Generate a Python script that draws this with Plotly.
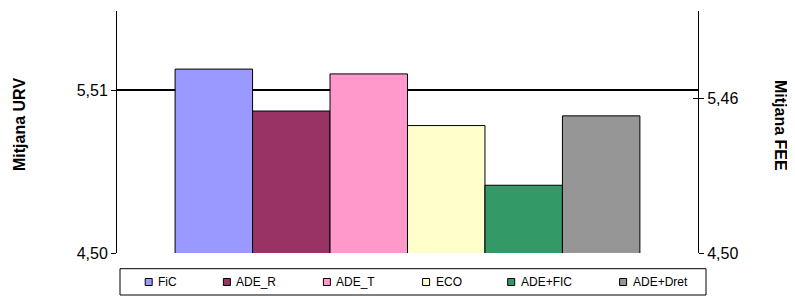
import plotly.graph_objects as go

# ---- data ----
series = ["FiC", "ADE_R", "ADE_T", "ECO", "ADE+FIC", "ADE+Dret"]
values_urv = [5.64, 5.38, 5.61, 5.29, 4.92, 5.35]
colors = ["#9999FF", "#993366", "#FF99CC", "#FFFFCC", "#339966", "#969696"]
left_ticks = [4.50, 5.51]
right_ticks = [4.50, 5.46]
axis_range = [4.5, 6.0]
left_title = "Mitjana URV"
right_title = "Mitjana FEE"

# page body has an 8px default margin; build the figure so that it lands
# at the reference positions inside the 795x296 window
OFF = 8
W, H = 795 - OFF, 296 - OFF
# plot-area edges in window pixels
X0, X1, Y0, Y1 = 117, 698, 11, 253
ML, MR, MT, MB = X0 - OFF, (795 - X1), Y0 - OFF, (296 - Y1)
PW, PH = X1 - X0, Y1 - Y0
FONT = "Liberation Sans, Arial, sans-serif"


def px(x):
    return (x - X0) / PW


def py(y):
    return (Y1 - y) / PH


fig = go.Figure()
for name, v, c in zip(series, values_urv, colors):
    fig.add_trace(go.Bar(
        x=["Mitjana"], y=[v], name=name,
        marker=dict(color=c, line=dict(color="#000000", width=1)),
        showlegend=False,
    ))
# empty trace so the secondary axis is drawn
fig.add_trace(go.Scatter(x=["Mitjana"], y=[None], yaxis="y2",
                         showlegend=False, hoverinfo="skip"))

# manual legend (Excel style)
legend_left = [145.2, 223.4, 323.4, 422.6, 507.7, 619.6]
shapes = [dict(type="rect", xref="paper", yref="paper",
               x0=px(120), x1=px(706), y0=py(295), y1=py(268.7),
               line=dict(color="#000000", width=1), fillcolor="white", layer="above")]
annotations = []
for name, c, lx in zip(series, colors, legend_left):
    shapes.append(dict(type="rect", xref="paper", yref="paper",
                       x0=px(lx), x1=px(lx + 7), y0=py(285.5), y1=py(278.5),
                       line=dict(color="#000000", width=1), fillcolor=c, layer="above"))
    annotations.append(dict(xref="paper", yref="paper", x=px(lx + 11), y=py(282),
                            xanchor="left", yanchor="middle", showarrow=False,
                            text=name, font=dict(size=12, color="#000000", family=FONT)))

annotations.append(dict(xref="paper", yref="paper", x=px(19), y=py(125),
                        xanchor="center", yanchor="middle", showarrow=False,
                        textangle=-90, text="<b>" + left_title + "</b>",
                        font=dict(size=16, color="#000000", family=FONT)))
annotations.append(dict(xref="paper", yref="paper", x=px(781), y=py(125),
                        xanchor="center", yanchor="middle", showarrow=False,
                        textangle=90, text="<b>" + right_title + "</b>",
                        font=dict(size=16, color="#000000", family=FONT)))

fig.update_layout(
    width=W, height=H,
    margin=dict(l=ML, r=MR, t=MT, b=MB, pad=0),
    paper_bgcolor="white", plot_bgcolor="white",
    barmode="group", bargap=0.2, bargroupgap=0,
    separators=",.",
    font=dict(family=FONT, size=16, color="#000000"),
    showlegend=False,
    xaxis=dict(showticklabels=False, ticks="", showgrid=False, zeroline=False,
               showline=False, fixedrange=True),
    yaxis=dict(range=axis_range, tickvals=left_ticks, tickformat=".2f",
               showgrid=True, gridcolor="#000000", gridwidth=2,
               showline=True, linecolor="#000000", linewidth=1,
               ticks="outside", ticklen=5, tickcolor="#000000", tickwidth=1,
               zeroline=False, tickfont=dict(size=16)),
    yaxis2=dict(range=axis_range, tickvals=right_ticks, tickformat=".2f",
                overlaying="y", side="right", showgrid=False,
                showline=True, linecolor="#000000", linewidth=1,
                ticks="outside", ticklen=5, tickcolor="#000000", tickwidth=1,
                minor=dict(tickvals=[right_ticks[1]], ticks="inside", ticklen=5,
                           tickcolor="#000000", tickwidth=1, showgrid=False),
                zeroline=False, tickfont=dict(size=16)),
    shapes=shapes,
    annotations=annotations,
)

fig.write_html("out.html")
